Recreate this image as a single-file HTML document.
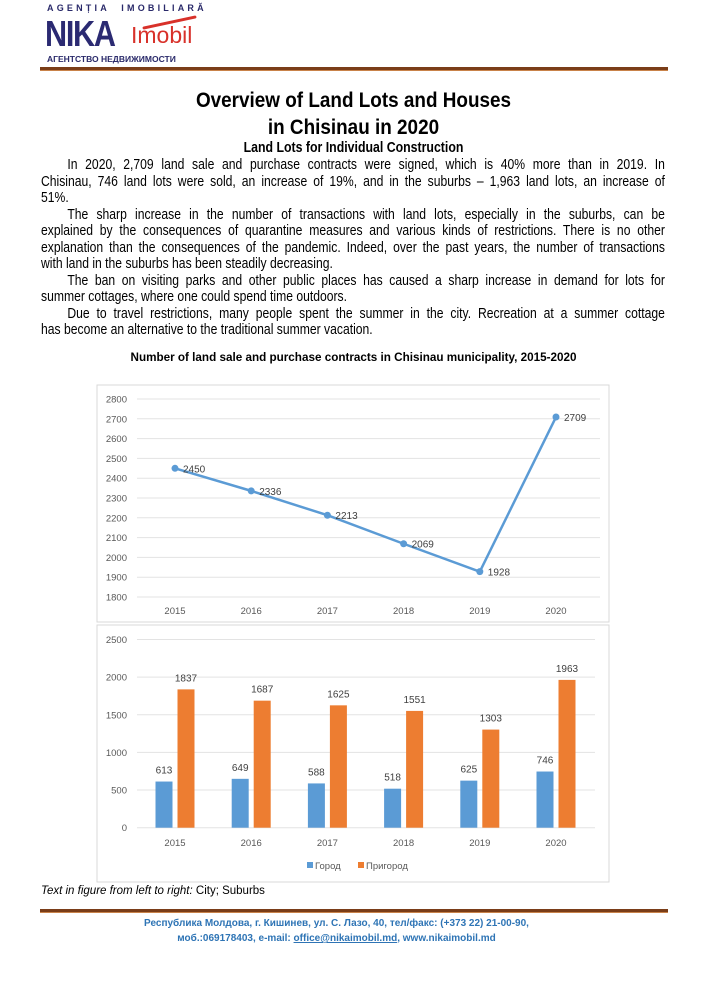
<!DOCTYPE html>
<html><head><meta charset="utf-8">
<style>
body{margin:0;background:#fff;}
#page{position:relative;width:707px;height:1000px;overflow:hidden;font-family:"Liberation Sans",sans-serif;color:#000;}
.abs{position:absolute;}
.ln{position:absolute;left:0;width:734px;white-space:nowrap;font-size:14.3px;}
.j{text-align:justify;text-align-last:justify;}
</style></head><body>
<div id="page">
  <div class="abs" style="left:47px;top:3px;font-size:9px;font-weight:bold;letter-spacing:3.2px;color:#2a2a6a;">AGENȚIA&nbsp; IMOBILIARĂ</div>
  <div class="abs" style="left:45px;top:13px;font-size:36px;font-weight:bold;color:#2b2a72;transform:scaleX(0.85);transform-origin:left;letter-spacing:-1.5px;">NIKA</div>
  <div class="abs" style="left:131px;top:22px;font-size:23px;color:#d8312a;">Imobil</div>
  <div class="abs" style="left:142px;top:21px;width:55px;height:3px;background:#d8312a;transform:rotate(-12deg);border-radius:2px;"></div>
  <div class="abs" style="left:47px;top:54px;font-size:8.5px;font-weight:bold;color:#2a2a6a;">АГЕНТСТВО НЕДВИЖИМОСТИ</div>
  <div class="abs" style="left:40px;top:67px;width:628px;height:3px;background:#7a3d18;border-bottom:1px solid #c9834a;"></div>

  <div class="abs" style="left:0;top:87px;width:707px;text-align:center;font-size:21px;font-weight:bold;line-height:27px;">
    <div style="transform:scaleX(0.9);">Overview of Land Lots and Houses</div>
    <div style="transform:scaleX(0.9);">in Chisinau in 2020</div>
  </div>
  <div class="abs" style="left:0;top:140px;width:707px;text-align:center;font-size:14.5px;font-weight:bold;transform:scaleX(0.85);">Land Lots for Individual Construction</div>

  <div class="abs" style="left:41px;top:157px;width:734px;height:190px;transform:scaleX(0.85);transform-origin:left top;">
    <div class="ln j" style="top:0px;padding-left:31px;width:703px;">In 2020, 2,709 land sale and purchase contracts were signed, which is 40% more than in 2019. In</div>
    <div class="ln j" style="top:16.5px;">Chisinau, 746 land lots were sold, an increase of 19%, and in the suburbs – 1,963 land lots, an increase of</div>
    <div class="ln" style="top:33px;">51%.</div>
    <div class="ln j" style="top:49.5px;padding-left:31px;width:703px;">The sharp increase in the number of transactions with land lots, especially in the suburbs, can be</div>
    <div class="ln j" style="top:66px;">explained by the consequences of quarantine measures and various kinds of restrictions. There is no other</div>
    <div class="ln j" style="top:82.5px;">explanation than the consequences of the pandemic. Indeed, over the past years, the number of transactions</div>
    <div class="ln" style="top:99px;">with land in the suburbs has been steadily decreasing.</div>
    <div class="ln j" style="top:115.5px;padding-left:31px;width:703px;">The ban on visiting parks and other public places has caused a sharp increase in demand for lots for</div>
    <div class="ln" style="top:132px;">summer cottages, where one could spend time outdoors.</div>
    <div class="ln j" style="top:148.5px;padding-left:31px;width:703px;">Due to travel restrictions, many people spent the summer in the city. Recreation at a summer cottage</div>
    <div class="ln" style="top:165px;">has become an alternative to the traditional summer vacation.</div>
  </div>

  <div class="abs" style="left:0;top:351px;width:707px;text-align:center;font-size:11.7px;font-weight:bold;">Number of land sale and purchase contracts in Chisinau municipality, 2015-2020</div>

  <svg class="abs" id="charts" style="left:0;top:0;" width="707" height="1000" xmlns="http://www.w3.org/2000/svg" font-family="Liberation Sans, sans-serif"></svg>

  <div class="abs" style="left:41px;top:885px;font-size:11.5px;"><i>Text in figure from left to right:</i> City; Suburbs</div>

  <div class="abs" style="left:40px;top:909px;width:628px;height:3px;background:#7a3d18;border-bottom:1px solid #c9834a;"></div>
  <div class="abs" style="left:0;top:916px;width:673px;text-align:center;font-size:10px;font-weight:bold;color:#2e74b5;line-height:15px;">
    <div>Республика Молдова, г. Кишинев, ул. С. Лазо, 40, тел/факс: (+373 22) 21-00-90,</div>
    <div>моб.:069178403, e-mail: <span style="text-decoration:underline">office@nikaimobil.md</span>, www.nikaimobil.md</div>
  </div>
</div>
<script>
const years = ['2015','2016','2017','2018','2019','2020'];
const totals = [2450,2336,2213,2069,1928,2709];
const lineTicks = [1800,1900,2000,2100,2200,2300,2400,2500,2600,2700,2800];
const cityVals = [613,649,588,518,625,746];
const suburbVals = [1837,1687,1625,1551,1303,1963];
const barTicks = [0,500,1000,1500,2000,2500];
const legendLabels = ['Город','Пригород'];

const svg = document.getElementById('charts');
const NS = 'http://www.w3.org/2000/svg';
function mk(tag, attrs, txt){
  const e = document.createElementNS(NS, tag);
  for (const k in attrs) e.setAttribute(k, attrs[k]);
  if (txt !== undefined) e.textContent = txt;
  svg.appendChild(e);
  return e;
}
const xCat = i => 175 + i*76.2;
const yLine = v => 597 - (v-1800)*0.198;
const yBar = v => 827.7 - v*0.0753;

let f1 = mk('rect',{x:97,y:385,width:512,height:237,fill:'none',stroke:'#d9d9d9'});


let f2 = mk('rect',{x:97,y:625,width:512,height:257,fill:'none',stroke:'#d9d9d9'});



lineTicks.forEach(t=>{
  const y = yLine(t);
  const g = mk('line',{x1:137,x2:600,y1:y,y2:y,stroke:'#e3e3e3'});
  
  
  const l = mk('text',{x:127,y:y+3.5,'font-size':9.5,fill:'#595959','text-anchor':'end'},t);
  
  
});
years.forEach((yr,i)=>{
  const l = mk('text',{x:xCat(i),y:614,'font-size':9.5,fill:'#595959','text-anchor':'middle'},yr);
  
  
});
const pts = totals.map((v,i)=>xCat(i)+','+yLine(v)).join(' ');
const pl = mk('polyline',{points:pts,fill:'none',stroke:'#5b9bd5','stroke-width':2.5});


totals.forEach((v,i)=>{
  const c = mk('circle',{cx:xCat(i),cy:yLine(v),r:3.5,fill:'#5b9bd5'});
  
  
  const t = mk('text',{x:xCat(i)+8,y:yLine(v)+4,'font-size':10,fill:'#404040'},v);
  
  
});

barTicks.forEach(t=>{
  const y = yBar(t);
  const g = mk('line',{x1:137,x2:595,y1:y,y2:y,stroke:'#e3e3e3'});
  
  
  const l = mk('text',{x:127,y:y+3.5,'font-size':9.5,fill:'#595959','text-anchor':'end'},t);
  
  
});
years.forEach((yr,i)=>{
  const cx = xCat(i);
  const l = mk('text',{x:cx,y:846,'font-size':9.5,fill:'#595959','text-anchor':'middle'},yr);
  
  
  const b1 = mk('rect',{x:cx-19.5,y:yBar(cityVals[i]),width:17,height:yBar(0)-yBar(cityVals[i]),fill:'#5b9bd5'});
  
  
  const t1 = mk('text',{x:cx-11,y:yBar(cityVals[i])-8,'font-size':10,fill:'#404040','text-anchor':'middle'},cityVals[i]);
  
  
  const b2 = mk('rect',{x:cx+2.5,y:yBar(suburbVals[i]),width:17,height:yBar(0)-yBar(suburbVals[i]),fill:'#ed7d31'});
  
  
  const t2 = mk('text',{x:cx+11,y:yBar(suburbVals[i])-8,'font-size':10,fill:'#404040','text-anchor':'middle'},suburbVals[i]);
  
  
});
const lg1 = mk('rect',{x:307,y:862,width:6,height:6,fill:'#5b9bd5'});


const lt1 = mk('text',{x:315,y:869,'font-size':9.5,fill:'#595959'},legendLabels[0]);


const lg2 = mk('rect',{x:358,y:862,width:6,height:6,fill:'#ed7d31'});


const lt2 = mk('text',{x:366,y:869,'font-size':9.5,fill:'#595959'},legendLabels[1]);


</script>
</body></html>
